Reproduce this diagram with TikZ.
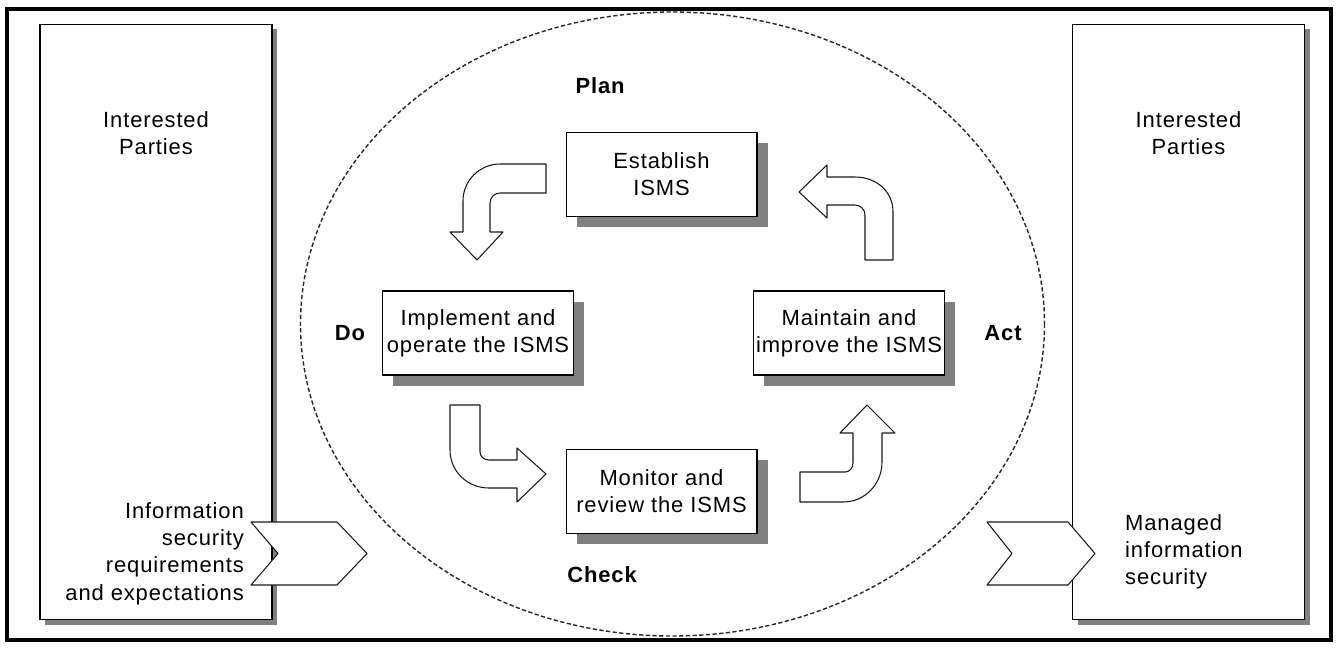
\documentclass[tikz,border=0pt]{standalone}
\usepackage{fontspec}
\setmainfont{Liberation Sans}[LetterSpace=4]
\usetikzlibrary{positioning}
\usetikzlibrary{shadows}
\newcommand{\ismsfont}{\fontsize{12.5}{15.5}\selectfont}
\tikzset{stepbox/.style = {draw, fill=white, line width=0.6pt, align=center,
                           minimum width=3.82cm, minimum height=1.68cm, inner sep=0pt,
                           drop shadow={shadow xshift=6.2pt, shadow yshift=-6.2pt,
                                        fill=black!50, opacity=1}},
         partybox/.style = {draw, fill=white, line width=0.6pt, inner sep=0pt,
                            minimum width=4.64cm, minimum height=11.92cm,
                            drop shadow={shadow xshift=3pt, shadow yshift=-3pt,
                                         fill=black!50, opacity=1}},
         phase/.style = {font=\ismsfont\bfseries},
         blockarrow/.style = {draw=black!90, fill=white, line width=0.6pt, line join=round}}

\begin{document}
\begin{tikzpicture}[x=0.02cm, y=-0.02cm, font=\ismsfont]
      \useasboundingbox (0,0) rectangle (1338,647);
      \draw [line width=2pt] (7,9) rectangle (1331,640);
      \draw [line width=0.8pt, black!85, dash pattern=on 2.4pt off 1.4pt] (672.5,324) ellipse [x radius=372, y radius=312];
      % interested parties
      \node [partybox] (leftparty) at (156,322) {};
      \node [partybox] (rightparty) at (1188.5,322) {};
      \node [align=center] (lefttitle) at (156,133) {Interested\\Parties};
      \node [align=center] (righttitle) at (1188.5,133) {Interested\\Parties};
      \draw [blockarrow] (251,522) -- (337,522) -- (367,553.5) -- (337,585) -- (251,585) -- (278,553.5) -- cycle;
      \draw [blockarrow] (987,522) -- (1068,522) -- (1095,553.5) -- (1068,585) -- (987,585) -- (1012,553.5) -- cycle;
      \node [align=right, anchor=east] (needs) at (250,553.5) {Information\\security\\requirements\\and expectations};
      \node [align=left, anchor=west] (managed) at (1119,552) {Managed\\information\\security};
      % the four steps
      \node [stepbox] (establish) at (661.5,174.5) {Establish\\ISMS};
      \node [stepbox] (implement) at (478,333) {Implement and\\operate the ISMS};
      \node [stepbox] (maintain) at (849,333) {Maintain and\\improve the ISMS};
      \node [stepbox] (monitor) at (661.5,491.5) {Monitor and\\review the ISMS};
      \node [phase] (plan) at (600,86) {Plan};
      \node [phase] (do) at (350,333) {Do};
      \node [phase] (act) at (1003,333) {Act};
      \node [phase] (check) at (602,575) {Check};
      % curved block arrows
      \draw [blockarrow] (546,164) -- (500,164) .. controls (479.6,164) and (463,180.6) .. (463,201)
            -- (463,232) -- (450,232) -- (477,260) -- (503,232) -- (490,232) -- (490,203)
            .. controls (490,197.5) and (494.5,193) .. (500,193) -- (546,193) -- cycle;
      \draw [blockarrow] (865,260) -- (893,260) -- (893,212) .. controls (893,191) and (876,177) .. (855,177)
            -- (827,177) -- (827,165) -- (799,192) -- (827,218) -- (827,205) -- (855,205)
            .. controls (860.5,205) and (865,209.5) .. (865,215) -- cycle;
      \draw [blockarrow] (450,405) -- (480,405) -- (480,452) .. controls (480,456.5) and (484,460) .. (489,460)
            -- (517,460) -- (517,448) -- (546,474) -- (517,502) -- (517,488) -- (489,488)
            .. controls (467,488) and (450,471) .. (450,450) -- cycle;
      \draw [blockarrow] (800,472) -- (845,472) .. controls (849.5,472) and (853,468) .. (853,463)
            -- (853,433) -- (840,433) -- (867,405) -- (895,433) -- (882,433) -- (882,462)
            .. controls (882,484) and (865,502) .. (843,502) -- (800,502) -- cycle;
    \end{tikzpicture}
\end{document}
